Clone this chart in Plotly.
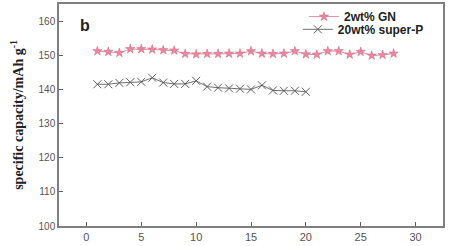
import plotly.graph_objects as go

cycles_gn = list(range(1, 29))
cap_gn = [151.2, 151.0, 150.7, 151.8, 151.8, 151.7, 151.5, 151.4, 150.4, 150.3,
          150.4, 150.4, 150.5, 150.5, 151.2, 150.5, 150.4, 150.5, 151.2, 150.3,
          150.2, 151.2, 151.2, 150.2, 151.0, 149.9, 150.1, 150.5]
cycles_sp = list(range(1, 21))
cap_sp = [141.5, 141.5, 141.9, 142.1, 142.2, 143.4, 142.0, 141.6, 141.6, 142.5,
          140.8, 140.5, 140.3, 140.2, 140.0, 141.2, 139.7, 139.6, 139.6, 139.3]
x_ticks = [0, 5, 10, 15, 20, 25, 30]
y_ticks = [100, 110, 120, 130, 140, 150, 160]

fig = go.Figure()
fig.add_trace(go.Scatter(
    x=cycles_gn, y=cap_gn, mode="lines+markers", name="<b>2wt% GN</b>",
    line=dict(color="#e58aa0", width=1),
    marker=dict(symbol="star", size=7, color="#e58aa0", line=dict(color="#d9607e", width=0.5)),
    legend="legend",
))
fig.add_trace(go.Scatter(
    x=cycles_sp, y=cap_sp, mode="lines+markers", name="<b>20wt% super-P</b>",
    line=dict(color="#707070", width=1),
    marker=dict(symbol="x-thin-open", size=8, color="#606060", line=dict(color="#606060", width=1)),
    legend="legend2",
))

axis_common = dict(
    showline=True, linecolor="#808080", linewidth=1.5, mirror=True,
    ticks="inside", ticklen=4, tickcolor="#606060", tickwidth=1,
    showgrid=False, zeroline=False,
)
fig.update_xaxes(range=[-2.5, 32.5], tickvals=x_ticks,
                 tickfont=dict(family="Liberation Sans", size=11, color="#555555"),
                 **axis_common)
fig.update_yaxes(range=[100, 165], tickvals=y_ticks,
                 tickfont=dict(family="Liberation Sans", size=10, color="#555555"),
                 title=dict(text="<b>specific capacity/mAh g<sup>-1</sup></b>",
                            font=dict(family="Liberation Serif", size=14, color="#222222"),
                            standoff=12),
                 **axis_common)

fig.add_annotation(x=0.05, y=0.905, xref="paper", yref="paper", text="<b>b</b>",
                   showarrow=False, font=dict(family="Liberation Sans", size=16, color="#222222"),
                   xanchor="left", yanchor="middle")

leg_common = dict(xanchor="left", yanchor="middle", bgcolor="rgba(0,0,0,0)",
                  font=dict(family="Liberation Sans", size=12, color="#222222"),
                  itemwidth=30)
fig.update_layout(
    width=453, height=246,
    margin=dict(l=59, r=10, t=3, b=20),
    paper_bgcolor="white", plot_bgcolor="white",
    showlegend=True,
    legend=dict(x=0.638, y=0.939, **leg_common),
    legend2=dict(x=0.622, y=0.882, **leg_common),
)

fig.write_html("out.html")
